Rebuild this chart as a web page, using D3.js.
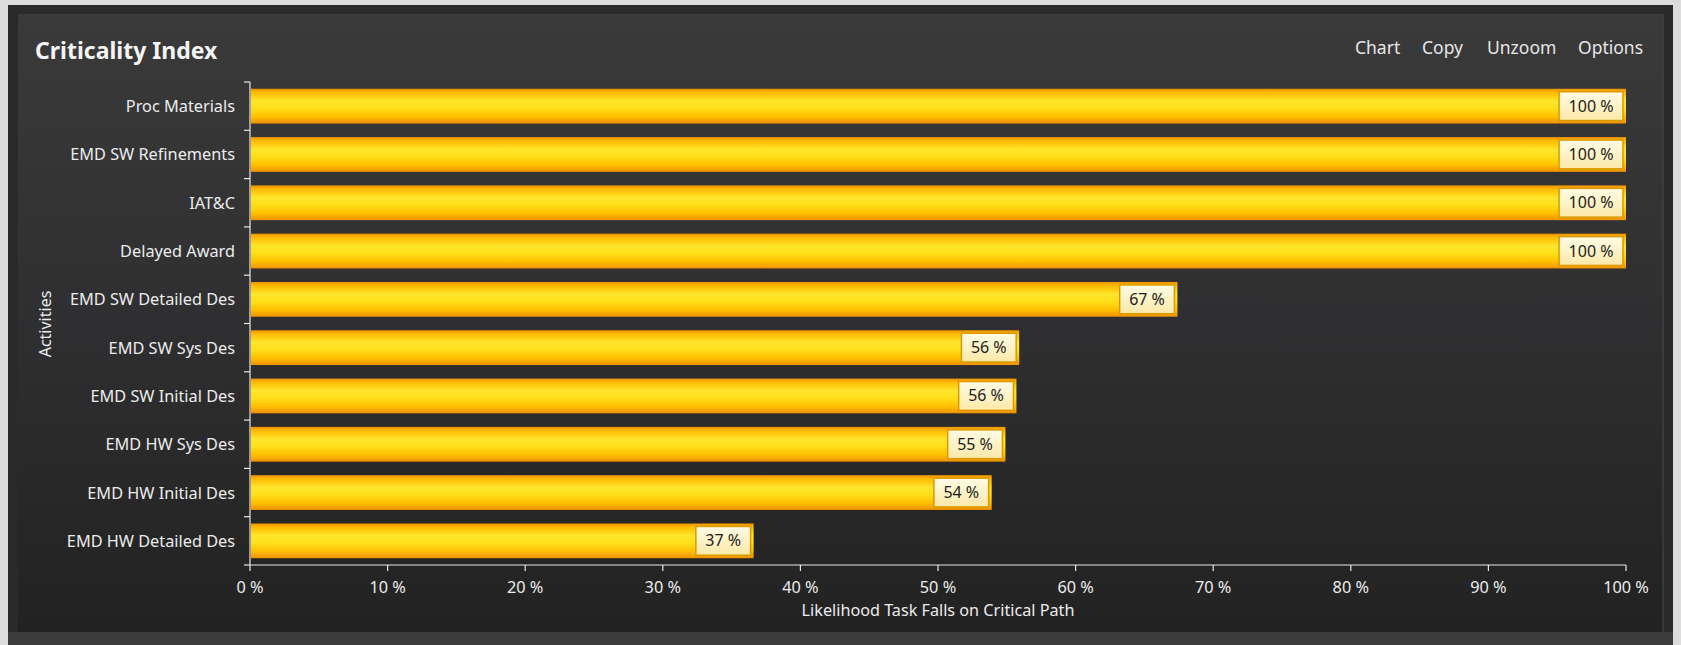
<!DOCTYPE html>
<html lang="en">
<head>
<meta charset="UTF-8">
<title>Criticality Index</title>
<style>
  body { margin: 0; background: #dcdcdc; }
  svg { display: block; font-family: "Noto Sans", "Open Sans", sans-serif; }
  .lbl { fill: #ececec; }
</style>
<script src="https://cdn.jsdelivr.net/npm/d3@7"></script>
</head>
<body>
<script>
const categories = ["Proc Materials", "EMD SW Refinements", "IAT&C", "Delayed Award", "EMD SW Detailed Des",
  "EMD SW Sys Des", "EMD SW Initial Des", "EMD HW Sys Des", "EMD HW Initial Des", "EMD HW Detailed Des"];
const values = [100, 100, 100, 100, 67.4, 55.9, 55.7, 54.9, 53.9, 36.6];
const xTicks = [0, 10, 20, 30, 40, 50, 60, 70, 80, 90, 100];
const menuItems = ["Chart", "Copy", "Unzoom", "Options"];

const width = 1681, height = 645;
const svg = d3.select("body").append("svg").attr("width", width).attr("height", height);
const defs = svg.append("defs");

// panel background
const bg = defs.append("linearGradient").attr("id", "bg").attr("x1", 0).attr("y1", 0).attr("x2", 0).attr("y2", 1);
bg.append("stop").attr("offset", "0%").attr("stop-color", "#3a3a3a");
bg.append("stop").attr("offset", "50%").attr("stop-color", "#2f2f31");
bg.append("stop").attr("offset", "100%").attr("stop-color", "#222222");

// bar fill
const bar = defs.append("linearGradient").attr("id", "bar").attr("x1", 0).attr("y1", 0).attr("x2", 0).attr("y2", 1);
[["0%", "#ec9200"], ["10%", "#ffb800"], ["35%", "#ffe62a"], ["55%", "#ffe01c"], ["80%", "#ffc000"], ["100%", "#ef9000"]]
  .forEach(s => bar.append("stop").attr("offset", s[0]).attr("stop-color", s[1]));

const box = defs.append("linearGradient").attr("id", "box").attr("x1", 0).attr("y1", 0).attr("x2", 0).attr("y2", 1);
box.append("stop").attr("offset", "0%").attr("stop-color", "#fffbe6");
box.append("stop").attr("offset", "100%").attr("stop-color", "#fbe9a8");

svg.append("rect").attr("x", 8).attr("y", 5).attr("width", 1665).attr("height", 640).attr("fill", "#2a2a2a");
svg.append("rect").attr("x", 18).attr("y", 14).attr("width", 1645).attr("height", 618).attr("fill", "url(#bg)");
svg.append("rect").attr("x", 8).attr("y", 632).attr("width", 1665).attr("height", 13).attr("fill", "#3b3b3b");
svg.append("line").attr("x1", 1663).attr("x2", 1663).attr("y1", 14).attr("y2", 632).attr("stroke", "#4a4a4a");

// title + menu
svg.append("text").attr("x", 35).attr("y", 59).attr("font-size", 23).attr("font-weight", "bold")
  .attr("fill", "#f4f4f4").text("Criticality Index");
const menuX = [1355, 1422, 1487, 1578];
svg.selectAll(".menu").data(menuItems).join("text").attr("class", "menu")
  .attr("x", (d, i) => menuX[i]).attr("y", 54).attr("font-size", 17.5).attr("fill", "#e6e6e6").text(d => d);

const x = d3.scaleLinear().domain([0, 100]).range([250, 1626]);
const y = d3.scaleBand().domain(categories).range([82, 565]).paddingInner(0.28).paddingOuter(0.14);

// bars
svg.selectAll(".bar").data(categories).join("rect").attr("class", "bar")
  .attr("x", x(0) + 1).attr("y", d => y(d))
  .attr("width", (d, i) => x(values[i]) - x(0) - 1).attr("height", y.bandwidth())
  .attr("fill", "url(#bar)");

// value labels
const vl = svg.selectAll(".val").data(categories).join("g").attr("class", "val");
vl.each(function (d, i) {
  const g = d3.select(this);
  const t = g.append("text").attr("font-size", 16).attr("fill", "#1c1c1c").text(Math.round(values[i]) + " %");
  const w = t.node().getComputedTextLength() + 19;
  const right = x(values[i]) - 3;
  const top = y(d) + 3;
  const h = y.bandwidth() - 6;
  g.insert("rect", "text").attr("x", right - w).attr("y", top).attr("width", w).attr("height", h)
    .attr("fill", "url(#box)").attr("stroke", "#d99a00").attr("stroke-width", 1.5);
  t.attr("x", right - w / 2).attr("y", top + h / 2 + 5.5).attr("text-anchor", "middle");
});

// y axis
const ax = svg.append("g").attr("stroke", "#e8e8e8").attr("stroke-width", 1.2);
ax.append("line").attr("x1", x(0)).attr("x2", x(0)).attr("y1", y.range()[0]).attr("y2", y.range()[1]);
d3.range(categories.length + 1).forEach(i => {
  const yy = y.range()[0] + i * y.step();
  ax.append("line").attr("x1", x(0) - 6).attr("x2", x(0)).attr("y1", yy).attr("y2", yy);
});
svg.selectAll(".cat").data(categories).join("text").attr("class", "cat lbl")
  .attr("x", 235).attr("y", d => y(d) + y.bandwidth() / 2 + 6)
  .attr("text-anchor", "end").attr("font-size", 16.3).text(d => d);

// x axis
ax.append("line").attr("x1", x(0)).attr("x2", x(100)).attr("y1", 565).attr("y2", 565);
xTicks.forEach(t => ax.append("line").attr("x1", x(t)).attr("x2", x(t)).attr("y1", 565).attr("y2", 571));
svg.selectAll(".xt").data(xTicks).join("text").attr("class", "xt lbl")
  .attr("x", d => x(d)).attr("y", 593).attr("text-anchor", "middle").attr("font-size", 16.3).text(d => d + " %");

svg.append("text").attr("class", "lbl").attr("x", (x(0) + x(100)) / 2).attr("y", 616)
  .attr("text-anchor", "middle").attr("font-size", 16.2).text("Likelihood Task Falls on Critical Path");
svg.append("text").attr("class", "lbl").attr("transform", "translate(51,324) rotate(-90)")
  .attr("text-anchor", "middle").attr("font-size", 16).text("Activities");
</script>
</body>
</html>
